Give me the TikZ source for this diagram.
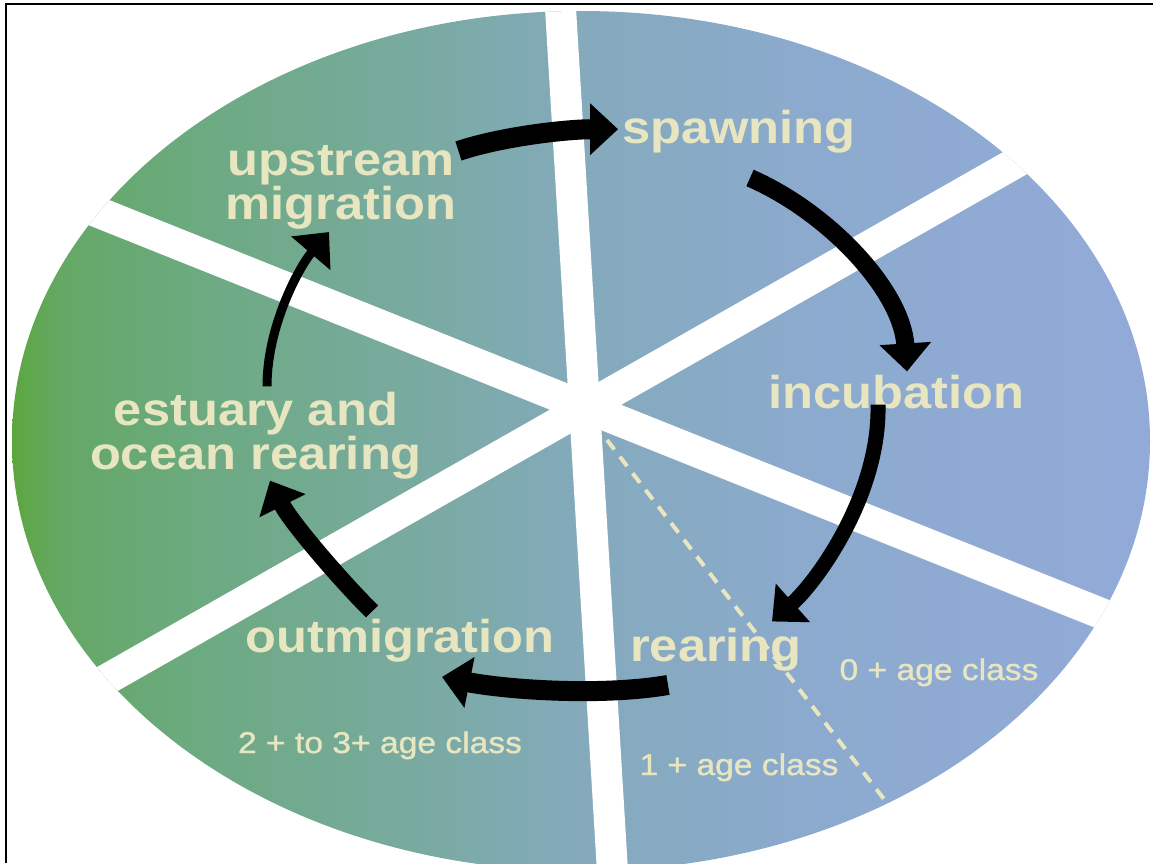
\documentclass[tikz,border=0pt]{standalone}
\usepackage{xcolor}
\usepackage{fontspec}
\usepackage{tikz}
\usetikzlibrary{arrows.meta,calc}

\newfontfamily\labfont{Liberation Sans}[FakeStretch=1.1]
\newfontfamily\agefont{Liberation Sans}[FakeStretch=1.12, FakeBold=1.2]

\definecolor{cream}{RGB}{232,230,192}
\definecolor{g0}{RGB}{92,166,62}
\definecolor{g1}{RGB}{100,168,100}
\definecolor{g2}{RGB}{108,170,128}
\definecolor{g3}{RGB}{120,170,158}
\definecolor{g4}{RGB}{132,170,188}
\definecolor{g5}{RGB}{140,170,206}
\definecolor{g6}{RGB}{146,170,216}

\pgfdeclarehorizontalshading{river}{100bp}{color(0bp)=(g0); color(25bp)=(g0); color(27bp)=(g1); color(33bp)=(g2); color(42bp)=(g3); color(50bp)=(g4); color(60bp)=(g5); color(75bp)=(g6); color(100bp)=(g6)}

\begin{document}
\begin{tikzpicture}[x=1pt, y=-1pt,
  lab/.style={font=\labfont\bfseries\fontsize{46}{41}\selectfont, text=cream, inner sep=0pt, align=center},
  age/.style={font=\agefont\fontsize{30}{32}\selectfont, text=cream, inner sep=0pt, anchor=base},
  band/.style={white, line width=31pt},
  arr/.style={-{Triangle[width=50pt,length=28pt]}, line width=#1}
]
\useasboundingbox (0,0) rectangle (1153,863);

% life cycle wheel
\shade[shading=river] (581,441) ellipse [x radius=569, y radius=430];
\begin{scope}
  \clip (581,441) ellipse [x radius=569, y radius=430];
  \draw[band] (560,0) -- (613,880);
  \draw[band] (0,173) -- (1200,653);
  \draw[band] (0,740) -- (1200,58);
\end{scope}
\draw[cream, line width=4pt, dash pattern=on 12pt off 9pt] (607,440) -- (887,803);

% frame
\draw[line width=2.5pt] (6,863) -- (6,4) -- (1153,4);

% stages
\node[lab, anchor=base] (spawn) at (739,143) {spawning};
\node[lab] (up) at (341,187) {upstream\\migration};
\node[lab, anchor=base] (incub) at (896,408) {incubation};
\node[lab] (est) at (256,436) {estuary and\\ocean rearing};
\node[lab, anchor=base] (outm) at (400,652) {outmigration};
\node[lab, anchor=base] (rear) at (716,661) {rearing};
\node[age] (age0) at (939,680) {0 + age class};
\node[age] (age1) at (739,775) {1 + age class};
\node[age] (age2) at (380,753) {2 + to 3+ age class};

% cycle
\draw[arr=20pt] ([shift={(2,6)}]up.north east) .. controls +(45,-15) and +(-50,0) .. ([shift={(-4,-2)}]spawn.west);
\draw[arr=18pt] ([shift={(11,25)}]spawn.south) .. controls +(80,35) and +(-5,-80) .. ([shift={(11,-3)}]incub.north);
\draw[arr=15pt] ([shift={(-18,-4)}]incub.south) .. controls +(2,90) and +(45,-40) .. ([shift={(56,-6)}]rear.north);
\draw[arr=20pt] ([shift={(-48,14)}]rear.south) .. controls +(-70,12) and +(60,12) .. ([shift={(42,15)}]outm.south);
\draw[arr=17pt] ([shift={(-28,-7)}]outm.north) .. controls +(-35,-35) and +(20,40) .. ([shift={(14,1)}]est.south);
\draw[arr=9pt] ([shift={(11,-6)}]est.north) .. controls +(0,-60) and +(-30,35) .. ([shift={(-12,3)}]up.south);
\end{tikzpicture}
\end{document}
